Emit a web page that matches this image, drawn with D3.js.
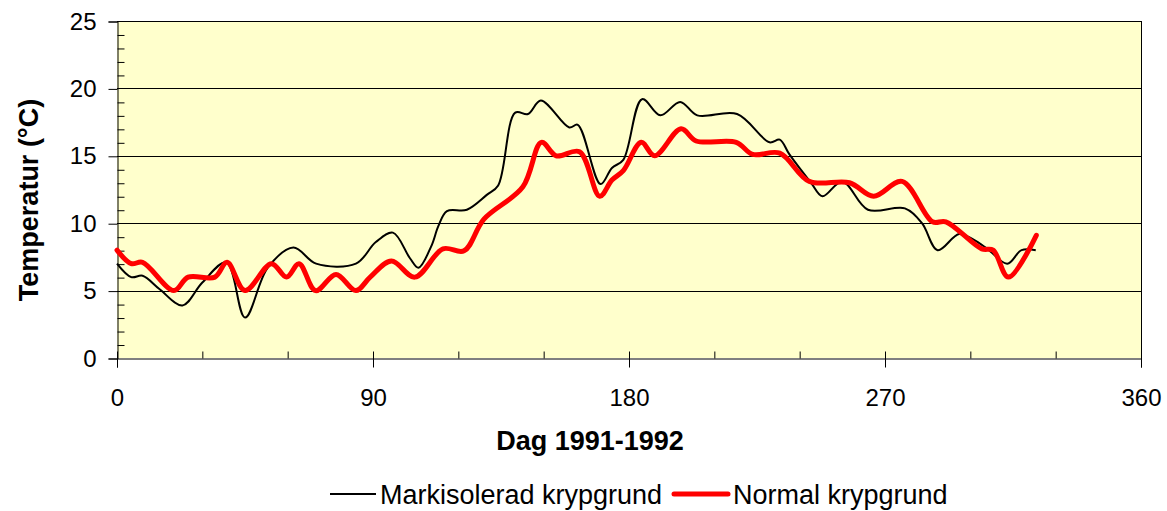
<!DOCTYPE html>
<html lang="sv">
<head>
<meta charset="UTF-8">
<title>Temperatur krypgrund</title>
<style>
  body { margin: 0; background: #fff; }
  svg text { font-family: "Liberation Sans", Arial, sans-serif; fill: #000; }
</style>
</head>
<body>
<div id="chart"></div>
<script src="https://d3js.org/d3.v7.min.js"></script>
<script>
// Markisolerad krypgrund (black)
const dagMarkisolerad = [0, 5, 9, 15, 23, 30, 38.5, 45, 53, 62, 70, 84, 91, 97, 103, 106, 110.5, 113, 116, 123, 130, 134, 140, 144.5, 149, 159, 162, 170, 174, 178, 184.6, 191, 198, 204, 218, 229.4, 233, 236.4, 244, 248, 255, 264, 277, 283, 288.5, 296, 301, 306, 313, 318, 323];
const tempMarkisolerad = [7.0, 6.0, 6.1, 5.1, 3.9, 5.6, 7.1, 3.0, 6.7, 8.2, 7.0, 7.0, 8.6, 9.3, 7.4, 6.7, 8.3, 9.8, 10.9, 11.0, 12.1, 12.8, 18.2, 18.1, 19.1, 17.1, 17.3, 12.9, 14.1, 14.7, 19.2, 18.0, 19.0, 18.0, 18.1, 16.0, 16.2, 15.1, 13.0, 12.0, 13.1, 11.0, 11.1, 10.0, 8.0, 9.2, 8.8, 8.1, 7.0, 8.0, 8.0];

// Normal krypgrund (red)
const dagNormal = [0, 5, 9, 20, 25, 34.4, 38.7, 45, 54.3, 59.6, 64, 69.8, 77, 84, 89, 96.5, 104.7, 114.6, 122, 129, 142.7, 149.2, 154.4, 162.6, 169.7, 174, 178, 184.3, 189, 198.3, 203.6, 217.7, 223.5, 233, 243.4, 257.5, 266, 276, 286.7, 291.4, 304, 308, 313.4, 323.2];
const tempNormal = [8.0, 7.0, 7.1, 5.0, 6.0, 6.0, 7.1, 5.0, 7.0, 6.0, 7.0, 5.0, 6.2, 5.0, 6.0, 7.2, 6.0, 8.1, 7.95, 10.3, 12.7, 16.0, 15.0, 15.3, 12.0, 13.2, 13.9, 16.0, 15.0, 17.0, 16.1, 16.0, 15.1, 15.2, 13.1, 13.0, 12.0, 13.1, 10.1, 10.1, 8.1, 8.0, 6.0, 9.1];

const xTicks = [0, 90, 180, 270, 360];
const yTicks = [0, 5, 10, 15, 20, 25];
const seriesNames = ["Markisolerad krypgrund", "Normal krypgrund"];

const width = 1167, height = 511;
const plotLeft = 117, plotRight = 1141, plotTop = 21, plotBottom = 358;

const svg = d3.select("#chart").append("svg")
  .attr("width", width)
  .attr("height", height);

const x = d3.scaleLinear().domain([0, 360]).range([plotLeft, plotRight]);
const y = d3.scaleLinear().domain([0, 25]).range([plotBottom, plotTop]);

// plot area
svg.append("rect")
  .attr("x", plotLeft).attr("y", plotTop)
  .attr("width", plotRight - plotLeft).attr("height", plotBottom - plotTop)
  .attr("fill", "#ffffcc");

// gridlines
svg.append("g")
  .selectAll("line")
  .data(yTicks.filter(d => d > 0))
  .join("line")
  .attr("x1", plotLeft).attr("x2", plotRight)
  .attr("y1", d => Math.round(y(d)) + 0.5).attr("y2", d => Math.round(y(d)) + 0.5)
  .attr("stroke", "#000")
  .attr("stroke-width", 1);

// right border
svg.append("line")
  .attr("x1", plotRight + 0.5).attr("x2", plotRight + 0.5)
  .attr("y1", plotTop).attr("y2", plotBottom)
  .attr("stroke", "#000");

// y axis, major ticks outside, minor inside
const yAxis = svg.append("g")
  .attr("transform", `translate(${plotLeft + 0.5},0.5)`)
  .call(d3.axisLeft(y).tickValues(yTicks).tickSize(9).tickPadding(12));
yAxis.selectAll("text").style("font-size", "24px");
svg.append("g")
  .attr("transform", `translate(${plotLeft + 0.5},0.5)`)
  .call(d3.axisRight(y).tickValues(d3.range(1, 25).filter(d => d % 5)).tickSize(7).tickFormat(""))
  .call(g => g.select(".domain").remove());

// x axis
const xAxis = svg.append("g")
  .attr("transform", `translate(0,${plotBottom + 0.5})`)
  .call(d3.axisBottom(x).tickValues(xTicks).tickSize(9).tickPadding(21));
xAxis.selectAll("text").style("font-size", "24px");
xAxis.selectAll(".tick line").attr("y1", -7);
svg.append("g")
  .attr("transform", `translate(0,${plotBottom + 0.5})`)
  .call(d3.axisTop(x).tickValues([30, 60, 120, 150, 210, 240, 300, 330]).tickSize(7).tickFormat(""))
  .call(g => g.select(".domain").remove());

svg.selectAll(".domain, .tick line").attr("stroke", "#000").attr("stroke-width", 1);

// lines
const line = d3.line()
  .x(d => x(d[0]))
  .y(d => y(d[1]))
  .curve(d3.curveCatmullRom.alpha(0.5));

svg.append("path")
  .datum(dagMarkisolerad.map((d, i) => [d, tempMarkisolerad[i]]))
  .attr("d", line)
  .attr("fill", "none")
  .attr("stroke", "#000")
  .attr("stroke-width", 2);

svg.append("path")
  .datum(dagNormal.map((d, i) => [d, tempNormal[i]]))
  .attr("d", line)
  .attr("fill", "none")
  .attr("stroke", "#ff0000")
  .attr("stroke-width", 5)
  .attr("stroke-linejoin", "round")
  .attr("stroke-linecap", "round");

// axis titles
svg.append("text")
  .attr("x", 590)
  .attr("y", 450)
  .attr("text-anchor", "middle")
  .style("font-size", "27px")
  .style("font-weight", "bold")
  .text("Dag 1991-1992");

svg.append("text")
  .attr("transform", "translate(38,200) rotate(-90)")
  .attr("text-anchor", "middle")
  .style("font-size", "27px")
  .style("font-weight", "bold")
  .text("Temperatur (°C)");

// legend
const legend = svg.append("g");
legend.append("line")
  .attr("x1", 330).attr("x2", 376).attr("y1", 494).attr("y2", 494)
  .attr("stroke", "#000").attr("stroke-width", 2);
legend.append("text")
  .attr("x", 380).attr("y", 504)
  .style("font-size", "27px")
  .text(seriesNames[0]);
legend.append("line")
  .attr("x1", 674).attr("x2", 728).attr("y1", 494).attr("y2", 494)
  .attr("stroke", "#ff0000").attr("stroke-width", 5).attr("stroke-linecap", "round");
legend.append("text")
  .attr("x", 733).attr("y", 504)
  .style("font-size", "27px")
  .text(seriesNames[1]);
</script>
</body>
</html>
